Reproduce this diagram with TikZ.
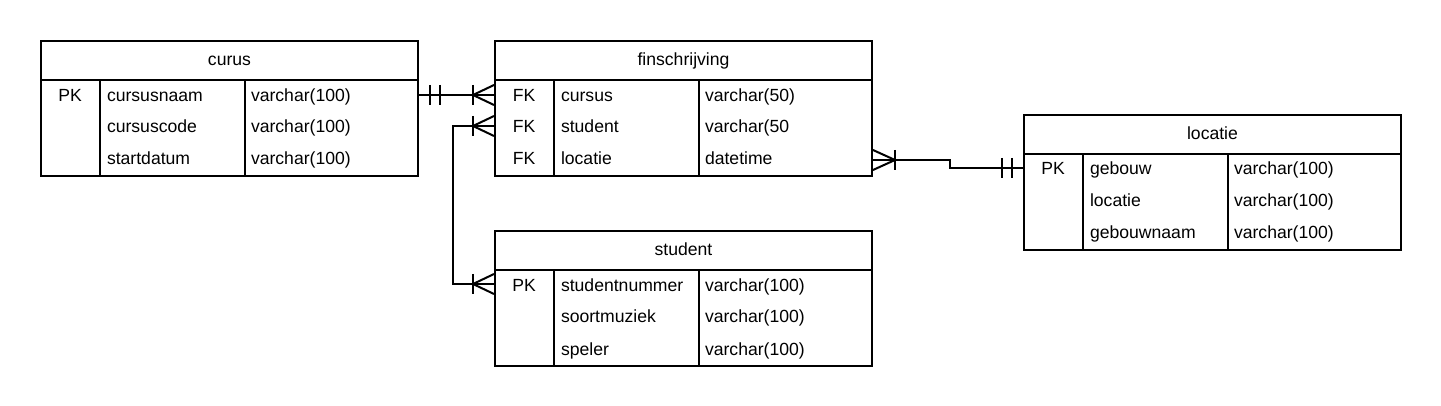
\documentclass[tikz,border=0pt]{standalone}
\usepackage{fontspec}
\setmainfont{Liberation Sans}
\usetikzlibrary{calc}

\begin{document}
\begin{tikzpicture}[x=1pt,y=-1pt,line width=2pt,
	tbl/.style={draw,rectangle,minimum width=377pt,minimum height=135pt,anchor=north west,inner sep=0pt},
	ttl/.style={font=\fontsize{17.6}{20}\selectfont,text height=17pt,text depth=3pt,inner sep=0pt},
	key/.style={font=\fontsize{17.6}{20}\selectfont,text height=17pt,text depth=3pt,inner sep=0pt},
	fld/.style={font=\fontsize{17.6}{20}\selectfont,text height=17pt,text depth=3pt,anchor=west,inner sep=0pt}]

	\useasboundingbox (0,0) rectangle (1441,406);

	% tables
	\node[tbl] (curus) at (40,40) {};
	\node[tbl] (fin) at (494,40) {};
	\node[tbl] (student) at (494,230) {};
	\node[tbl] (locatie) at (1023,114) {};

	% curus
	\draw ($(curus.north west)+(0,40)$) -- ($(curus.north east)+(0,40)$);
	\draw ($(curus.north west)+(60,40)$) -- ($(curus.south west)+(60,0)$);
	\draw ($(curus.north west)+(205,40)$) -- ($(curus.south west)+(205,0)$);
	\node[ttl] (curusT) at ($(curus.north)+(0,19)$) {curus};
	\node[key] (curusK) at (70,95) {PK};
	\node[fld] (cnaam) at (106,95) {cursusnaam};
	\node[fld] (ccode) at (106,126) {cursuscode};
	\node[fld] (cstart) at (106,158) {startdatum};
	\node[fld] (cnaamT) at (250,95) {varchar(100)};
	\node[fld] (ccodeT) at (250,126) {varchar(100)};
	\node[fld] (cstartT) at (250,158) {varchar(100)};

	% finschrijving
	\draw ($(fin.north west)+(0,40)$) -- ($(fin.north east)+(0,40)$);
	\draw ($(fin.north west)+(60,40)$) -- ($(fin.south west)+(60,0)$);
	\draw ($(fin.north west)+(205,40)$) -- ($(fin.south west)+(205,0)$);
	\node[ttl] (finT) at ($(fin.north)+(0,19)$) {finschrijving};
	\node[key] (fK1) at (524,95) {FK};
	\node[key] (fK2) at (524,126) {FK};
	\node[key] (fK3) at (524,158) {FK};
	\node[fld] (fcursus) at (560,95) {cursus};
	\node[fld] (fstudent) at (560,126) {student};
	\node[fld] (flocatie) at (560,158) {locatie};
	\node[fld] (fcursusT) at (704,95) {varchar(50)};
	\node[fld] (fstudentT) at (704,126) {varchar(50};
	\node[fld] (flocatieT) at (704,158) {datetime};

	% student
	\draw ($(student.north west)+(0,40)$) -- ($(student.north east)+(0,40)$);
	\draw ($(student.north west)+(60,40)$) -- ($(student.south west)+(60,0)$);
	\draw ($(student.north west)+(205,40)$) -- ($(student.south west)+(205,0)$);
	\node[ttl] (studentT) at ($(student.north)+(0,19)$) {student};
	\node[key] (sK) at (524,284) {PK};
	\node[fld] (snummer) at (560,284) {studentnummer};
	\node[fld] (smuziek) at (560,316) {soortmuziek};
	\node[fld] (sspeler) at (560,348) {speler};
	\node[fld] (snummerT) at (704,284) {varchar(100)};
	\node[fld] (smuziekT) at (704,316) {varchar(100)};
	\node[fld] (sspelerT) at (704,348) {varchar(100)};

	% locatie
	\draw ($(locatie.north west)+(0,40)$) -- ($(locatie.north east)+(0,40)$);
	\draw ($(locatie.north west)+(60,40)$) -- ($(locatie.south west)+(60,0)$);
	\draw ($(locatie.north west)+(205,40)$) -- ($(locatie.south west)+(205,0)$);
	\node[ttl] (locatieT) at ($(locatie.north)+(0,19)$) {locatie};
	\node[key] (lK) at (1053,168) {PK};
	\node[fld] (lgebouw) at (1089,168) {gebouw};
	\node[fld] (llocatie) at (1089,200) {locatie};
	\node[fld] (lnaam) at (1089,232) {gebouwnaam};
	\node[fld] (lgebouwT) at (1233,168) {varchar(100)};
	\node[fld] (llocatieT) at (1233,200) {varchar(100)};
	\node[fld] (lnaamT) at (1233,232) {varchar(100)};

	% curus -- finschrijving
	\coordinate (c1a) at (curus.east |- cnaam);
	\coordinate (c1b) at (fin.west |- fcursus);
	\draw (c1a) -- (c1b);
	\draw ($(c1a)+(11,-10)$) -- ($(c1a)+(11,10)$);
	\draw ($(c1a)+(21,-10)$) -- ($(c1a)+(21,10)$);
	\draw ($(c1b)+(-21,-10)$) -- ($(c1b)+(-21,10)$);
	\draw ($(c1b)+(0,-10)$) -- ($(c1b)+(-21,0)$) -- ($(c1b)+(0,10)$);

	% student -- finschrijving
	\coordinate (c2a) at (fin.west |- fstudent);
	\coordinate (c2b) at (student.west |- snummer);
	\draw (c2a) -- ++(-41,0) |- (c2b);
	\draw ($(c2a)+(-21,-10)$) -- ($(c2a)+(-21,10)$);
	\draw ($(c2a)+(0,-10)$) -- ($(c2a)+(-21,0)$) -- ($(c2a)+(0,10)$);
	\draw ($(c2b)+(-21,-10)$) -- ($(c2b)+(-21,10)$);
	\draw ($(c2b)+(0,-10)$) -- ($(c2b)+(-21,0)$) -- ($(c2b)+(0,10)$);

	% finschrijving -- locatie
	\coordinate (c3a) at ($(fin.east |- flocatie)+(0,2)$);
	\coordinate (c3b) at (locatie.west |- lgebouw);
	\draw (c3a) -- ++(77,0) |- (c3b);
	\draw ($(c3a)+(22,-10)$) -- ($(c3a)+(22,10)$);
	\draw ($(c3a)+(0,-10)$) -- ($(c3a)+(22,0)$) -- ($(c3a)+(0,10)$);
	\draw ($(c3b)+(-11,-10)$) -- ($(c3b)+(-11,10)$);
	\draw ($(c3b)+(-21,-10)$) -- ($(c3b)+(-21,10)$);
\end{tikzpicture}
\end{document}
